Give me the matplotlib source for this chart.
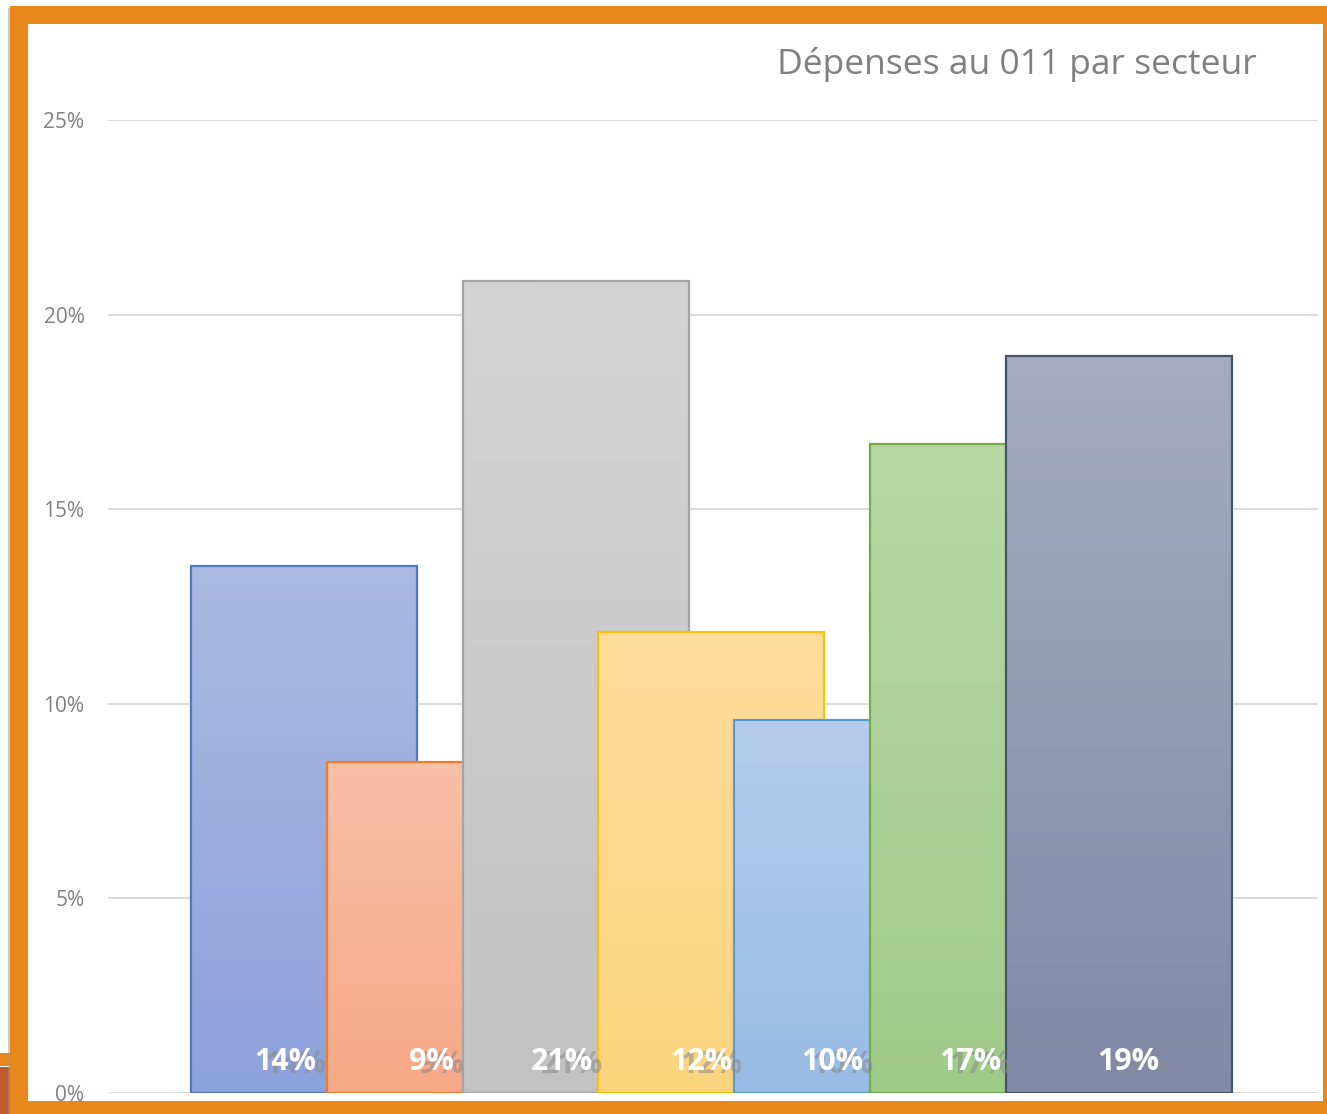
import numpy as np
import matplotlib.pyplot as plt
from matplotlib.patches import Rectangle
from matplotlib.colors import to_rgb
import matplotlib.transforms as mtransforms

plt.rcParams['font.family'] = ['Open Sans', 'DejaVu Sans']

# données
values = [0.1354, 0.0850, 0.2086, 0.1184, 0.0958, 0.1668, 0.1894]
labels = ['14%', '9%', '21%', '12%', '10%', '17%', '19%']
yticks = [0, 0.05, 0.10, 0.15, 0.20, 0.25]
ytick_labels = ['0%', '5%', '10%', '15%', '20%', '25%']
title = 'Dépenses au 011 par secteur'

# couleurs (haut du dégradé, bas du dégradé, bordure)
top_colors = ['#abb9e3', '#f8c0a7', '#d4d4d4', '#fddd9a', '#b5cdea', '#b8d8a6', '#a6abc2']
bottom_colors = ['#8ca2da', '#f7a886', '#c2c2c2', '#fbd47e', '#98bbe5', '#9fcb88', '#8189a8']
edge_colors = ['#4f78c8', '#ed7d31', '#a5a5a5', '#ffc000', '#5b9bd5', '#70ad47', '#44546a']
label_dx = [-0.14, -0.06, -0.10, -0.07, -0.11, -0.09, 0.07]

W, H = 1327, 1114
fig = plt.figure(figsize=(W / 100, H / 100), dpi=100)
fig.patch.set_facecolor('white')

# cadre orange
orange = '#e8871a'
fig.patches.append(Rectangle((10 / W, 0), 1 - 10 / W, (H - 6) / H, transform=fig.transFigure,
                             facecolor=orange, edgecolor='none', zorder=0))
fig.patches.append(Rectangle((28 / W, (H - 1101) / H), (1323 - 28) / W, (1101 - 24) / H,
                             transform=fig.transFigure, facecolor='white', edgecolor='none', zorder=1))
fig.patches.append(Rectangle((0, (H - 1066) / H), 10 / W, 13 / H, transform=fig.transFigure,
                             facecolor=orange, edgecolor='none', zorder=1))
fig.patches.append(Rectangle((0, 0), 10 / W, (H - 1067) / H, transform=fig.transFigure,
                             facecolor='#bf5a2c', edgecolor='none', zorder=1))
fig.patches.append(Rectangle((8 / W, 0), 2 / W, (H - 8) / H, transform=fig.transFigure,
                             facecolor='#9a9a9a', edgecolor='none', alpha=0.5, zorder=1))

ax = fig.add_axes([108 / W, (H - 1093) / H, (1318 - 108) / W, (1093 - 120) / H])
ax.set_facecolor('none')
ax.set_zorder(2)

x = np.arange(len(values))
width = 1.665

for i, v in enumerate(values):
    x0, x1 = x[i] - width / 2, x[i] + width / 2
    c_top = np.array(to_rgb(top_colors[i]))
    c_bot = np.array(to_rgb(bottom_colors[i]))
    t = np.linspace(0, 1, 256)[:, None]
    grad = (c_top[None, :] * (1 - t) + c_bot[None, :] * t)[:, None, :]
    ax.imshow(grad, extent=(x0, x1, 0, v), origin='upper', aspect='auto',
              interpolation='bilinear', zorder=3 + i)
    ax.add_patch(Rectangle((x0, 0), width, v, facecolor='none', edgecolor=edge_colors[i],
                           linewidth=1.6, zorder=3 + i + 0.5))

# étiquettes (avec ombre grise décalée)
shadow = mtransforms.offset_copy(ax.transData, fig=fig, x=10, y=-3, units='dots')
for i, lab in enumerate(labels):
    ax.text(x[i] + label_dx[i], 0.0080, lab, transform=shadow, ha='center', va='center',
            fontsize=22, fontweight='bold', color='#8a8a8a', alpha=0.55, zorder=20)
    ax.text(x[i] + label_dx[i], 0.0080, lab, ha='center', va='center',
            fontsize=22, fontweight='bold', color='white', zorder=21)

ax.set_xlim(-1.443, 7.467)
ax.set_ylim(0, 0.25)
ax.set_yticks(yticks)
ax.set_yticklabels(ytick_labels)
ax.set_xticks([])
ax.tick_params(axis='y', length=0, pad=17, labelsize=15, labelcolor='#808080')
ax.grid(axis='y', color='#d9d9d9', linewidth=1.3, zorder=0)
ax.set_axisbelow(True)
for s in ax.spines.values():
    s.set_visible(False)

fig.text(1257 / W, (H - 64) / H, title, ha='right', va='center', fontsize=25.5, color='#808080')

fig.savefig('out.png', dpi=100)
